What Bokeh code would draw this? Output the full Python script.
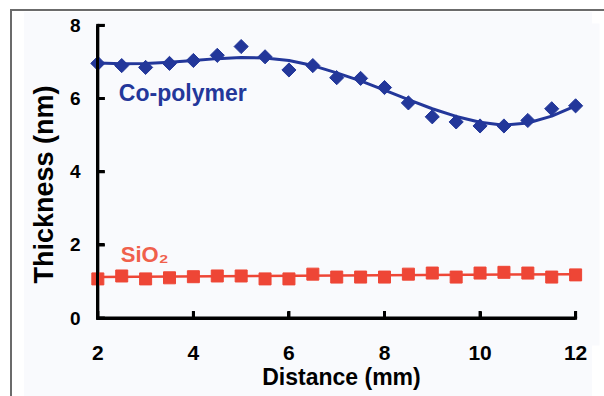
import math
from bokeh.plotting import figure
from bokeh.models import Range1d, FixedTicker, LinearAxis
from bokeh.core.properties import value
from bokeh.embed import file_html
from bokeh.resources import INLINE

# ---- data ----
distance = [2, 2.5, 3, 3.5, 4, 4.5, 5, 5.5, 6, 6.5, 7, 7.5, 8, 8.5, 9, 9.5, 10, 10.5, 11, 11.5, 12]
copolymer = [6.96, 6.90, 6.85, 6.96, 7.04, 7.18, 7.42, 7.14, 6.78, 6.90, 6.57, 6.55, 6.30, 5.88,
             5.50, 5.36, 5.25, 5.25, 5.40, 5.72, 5.80]
copolymer_fit = [6.97, 6.95, 6.96, 6.99, 7.04, 7.09, 7.12, 7.11, 7.04, 6.90, 6.70, 6.48, 6.23,
                 5.97, 5.72, 5.51, 5.35, 5.27, 5.33, 5.52, 5.80]
sio2 = [1.07, 1.15, 1.07, 1.10, 1.13, 1.15, 1.15, 1.07, 1.07, 1.20, 1.12, 1.12, 1.12, 1.20,
        1.23, 1.12, 1.23, 1.25, 1.23, 1.12, 1.18]
sio2_fit_x = [2, 12]
sio2_fit = [1.12, 1.20]
x_ticks = [2, 4, 6, 8, 10, 12]
y_ticks = [0, 2, 4, 6, 8]

BLUE = "#23379a"
RED = "#ee4636"
FONT = "Liberation Sans"
BG = "#f9fafd"

W, H = 604, 396
BL, BR, BT, BB = 83, 5, 23, 51
XR = (1.7, 12.5)
YR = (-0.75, 8.05)

p = figure(width=W, height=H, output_backend="svg", toolbar_location=None,
           x_range=Range1d(*XR), y_range=Range1d(*YR),
           min_border_left=BL, min_border_right=BR, min_border_top=BT, min_border_bottom=BB)
p.background_fill_color = BG
p.border_fill_color = None
p.styles = {
    "background": (
        "linear-gradient(#6b6b6b,#6b6b6b) 10px 9px/594px 2px no-repeat,"
        "linear-gradient(#6b6b6b,#6b6b6b) 10px 9px/2px 387px no-repeat,"
        "linear-gradient(#f9fafd,#f9fafd) 24px 12px/568px 384px no-repeat,"
        "#ffffff"
    )
}
p.outline_line_color = None
p.xgrid.visible = False
p.ygrid.visible = False


def rule_only(ax, loc, ticks):
    ax.fixed_location = loc
    ax.bounds = (ticks[0], ticks[-1])
    ax.ticker = FixedTicker(ticks=ticks)
    ax.minor_tick_line_color = None
    ax.major_tick_in = 7
    ax.major_tick_out = 1
    ax.major_tick_line_width = 3
    ax.axis_line_width = 3
    ax.major_label_text_color = None


def labels_only(ax, ticks, standoff, label_size, title, title_size, title_standoff):
    ax.ticker = FixedTicker(ticks=ticks)
    ax.axis_line_color = None
    ax.major_tick_line_color = None
    ax.minor_tick_line_color = None
    ax.major_tick_in = 0
    ax.major_tick_out = 0
    ax.major_label_standoff = standoff
    ax.major_label_text_font = FONT
    ax.major_label_text_font_style = "bold"
    ax.major_label_text_font_size = label_size
    ax.major_label_text_color = "black"
    ax.axis_label = title
    ax.axis_label_text_font = FONT
    ax.axis_label_text_font_style = "bold"
    ax.axis_label_text_font_size = title_size
    ax.axis_label_text_color = "black"
    ax.axis_label_standoff = title_standoff


rule_only(p.xaxis[0], y_ticks[0], x_ticks)
rule_only(p.yaxis[0], x_ticks[0], y_ticks)

# tick labels and titles
xl = LinearAxis()
labels_only(xl, x_ticks, 0, "21px", "Distance (mm)", "23px", 1)
p.add_layout(xl, "below")
yl = LinearAxis()
labels_only(yl, y_ticks, 3, "19px", "Thickness (nm)", "27px", 8)
p.add_layout(yl, "left")

# axis lines and inward tick marks at y = 0 and x = 2 (7 px long)
TICK_PX = 7
x_px = (W - BL - BR) / (XR[1] - XR[0])
y_px = (H - BT - BB) / (YR[1] - YR[0])
x0, y0 = x_ticks[0], y_ticks[0]
p.segment(x0=[x0, x0], y0=[y0, y0], x1=[x_ticks[-1], x0], y1=[y0, y_ticks[-1]],
          line_color="black", line_width=3, line_cap="square")
p.segment(x0=x_ticks, y0=[y0] * len(x_ticks), x1=x_ticks,
          y1=[y0 + TICK_PX / y_px] * len(x_ticks), line_color="black", line_width=3)
p.segment(x0=[x0] * len(y_ticks), y0=y_ticks, x1=[x0 + TICK_PX / x_px] * len(y_ticks),
          y1=y_ticks, line_color="black", line_width=3)

# series
p.line(sio2_fit_x, sio2_fit, line_color=RED, line_width=2.5)
p.scatter(distance, sio2, marker="square", size=12, fill_color=RED, line_color=RED)
p.line(distance, copolymer_fit, line_color=BLUE, line_width=3)
p.scatter(distance, copolymer, marker="square", size=10, angle=math.pi / 4,
          fill_color=BLUE, line_color=BLUE)

p.text(x=[2.44], y=[6.14], text=["Co-polymer"], text_font=value(FONT), text_font_style="bold",
       text_font_size="23px", text_color=BLUE, text_baseline="alphabetic", text_align="left")
p.text(x=[2.48], y=[1.75], text=["SiO\u2082"], text_font=value(FONT), text_font_style="bold",
       text_font_size="22px", text_color="#f0604c", text_baseline="alphabetic", text_align="left")

open("out.html", "w").write(file_html(p, INLINE))
